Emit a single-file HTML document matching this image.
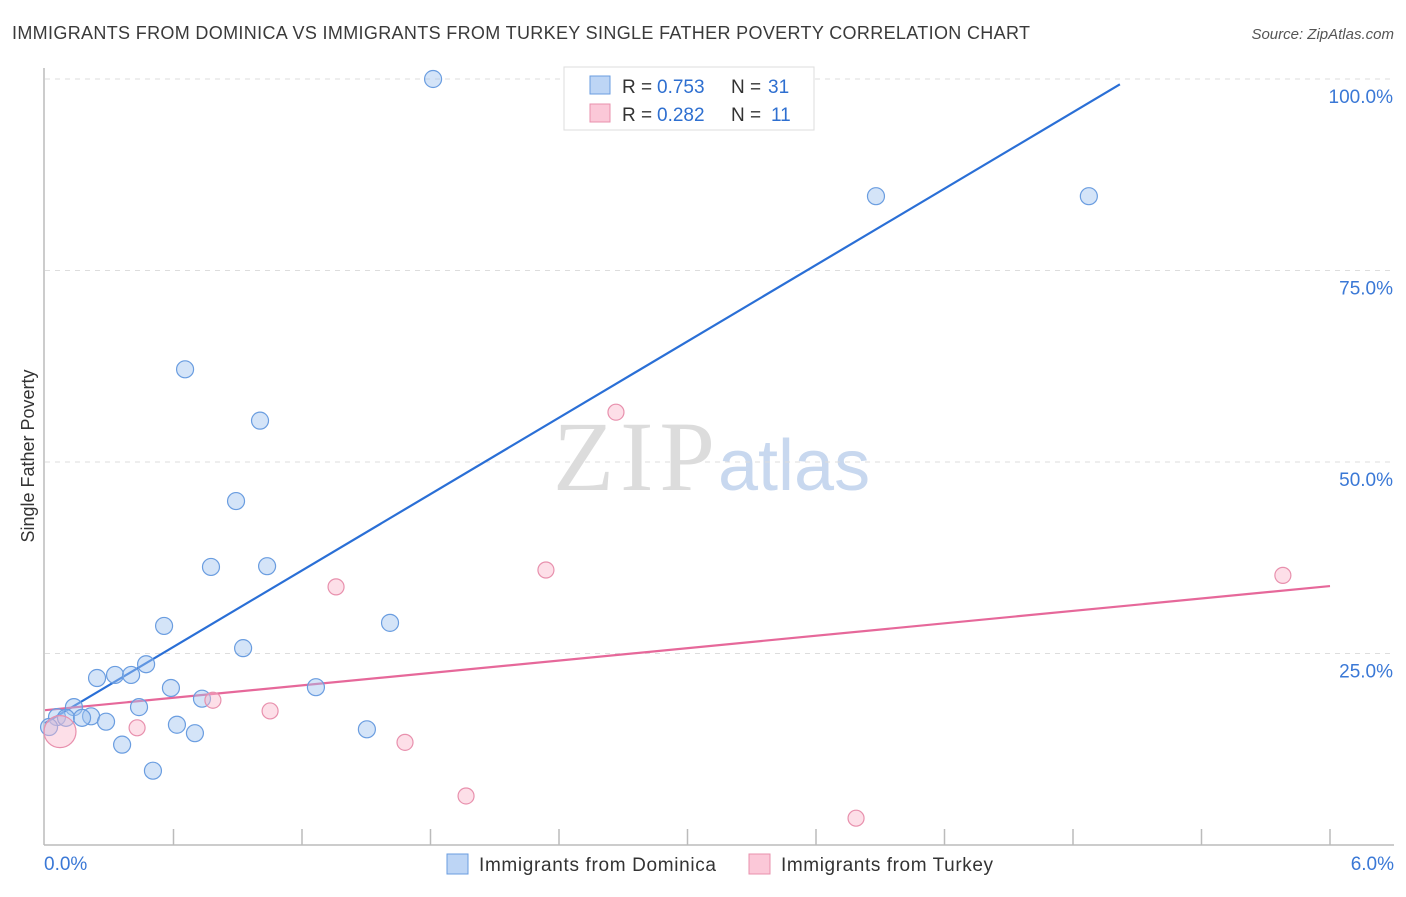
<!DOCTYPE html>
<html><head><meta charset="utf-8"><style>
body{margin:0;background:#fff;}
svg text{font-family:"Liberation Sans",sans-serif;}
</style></head><body>
<svg id="chart" width="1406" height="892">
<text x="12" y="39" font-size="18" fill="#3a3a3a" textLength="1018">IMMIGRANTS FROM DOMINICA VS IMMIGRANTS FROM TURKEY SINGLE FATHER POVERTY CORRELATION CHART</text>
<text x="1394" y="39" font-size="15" fill="#555" font-style="italic" text-anchor="end">Source: ZipAtlas.com</text>
<text x="0" y="0" transform="translate(34,456) rotate(-90)" font-size="18" fill="#333" text-anchor="middle">Single Father Poverty</text>
<g>
<text x="553" y="490" font-size="100" fill="#dcdcdc" style="font-family:'Liberation Serif',serif" textLength="162">ZIP</text>
<text x="718" y="490" font-size="72" fill="#c8d8ef">atlas</text>
</g>
<g id="grid"></g><g id="axes"></g><g id="lines"></g><g id="pts"></g>
<g>
<rect x="564" y="67" width="250" height="63" fill="#fff" stroke="#ddd"/>
<rect x="590" y="76" width="20" height="18" fill="#bdd5f5" stroke="#6a9de0"/>
<rect x="590" y="104" width="20" height="18" fill="#fbc8d8" stroke="#e890ad"/>
<text y="93" font-size="19" fill="#333"><tspan x="622">R =</tspan><tspan x="657" fill="#2e6fd0">0.753</tspan><tspan x="731">N =</tspan><tspan x="768" fill="#2e6fd0">31</tspan></text>
<text y="121" font-size="19" fill="#333"><tspan x="622">R =</tspan><tspan x="657" fill="#2e6fd0">0.282</tspan><tspan x="731">N =</tspan><tspan x="771" fill="#2e6fd0">11</tspan></text>
</g>
<g>
<rect x="447" y="854" width="21" height="20" fill="#bdd5f5" stroke="#6a9de0"/>
<text x="479" y="871" font-size="19" fill="#333" textLength="237">Immigrants from Dominica</text>
<rect x="749" y="854" width="21" height="20" fill="#fbc8d8" stroke="#e890ad"/>
<text x="781" y="871" font-size="19" fill="#333" textLength="212">Immigrants from Turkey</text>
</g>
</svg>
<script>
const xTicksMinorCount = 10;
const yTicks = [25, 50, 75, 100];
const yTickLabels = ["25.0%", "50.0%", "75.0%", "100.0%"];
const xLabels = ["0.0%", "6.0%"];
const domX = [1.812,3.880,4.874,0.654,1.004,0.892,0.775,1.037,0.556,1.611,0.925,0.472,0.327,0.402,0.243,0.588,1.265,0.439,0.733,0.135,0.215,0.285,0.056,0.098,0.173,0.616,0.700,1.503,0.360,0.504,0.019];
const domY = [100,84.7,84.7,62.1,55.4,44.9,36.3,36.4,28.6,29.0,25.7,23.6,22.2,22.2,21.8,20.5,20.6,18.0,19.1,18.0,16.8,16.1,16.7,16.6,16.6,15.7,14.6,15.1,13.1,9.7,15.4];
const turX = [2.666,2.339,5.780,1.359,0.784,1.051,0.430,1.681,1.966,3.787,0.070];
const turY = [56.5,35.9,35.2,33.7,18.9,17.5,15.3,13.4,6.4,3.5,14.8];
const turR = [8,8,8,8,8,8,8,8,8,8,16];
const domTrend = [[0,15.9],[5.019,99.3]];
const turTrend = [[0,17.6],[6,33.8]];
const NS="http://www.w3.org/2000/svg";
const X0=45,X1=1330,Y0=845,Y100=79;
const sx=v=>X0+(X1-X0)*v/6;
const sy=v=>Y0-(Y0-Y100)*v/100;
function mk(tag,attrs,parent){const e=document.createElementNS(NS,tag);for(const k in attrs)e.setAttribute(k,attrs[k]);document.getElementById(parent).appendChild(e);return e;}
yTicks.forEach((t,i)=>{
 const l=mk('line',{x1:X0,x2:1394,y1:sy(t),y2:sy(t),stroke:'#ddd','stroke-dasharray':'5,5'},'grid');
 
 
 const tx=mk('text',{x:1393,y:sy(t)+24,'font-size':19,fill:'#3a78d6','text-anchor':'end'},'grid');
 tx.textContent=yTickLabels[i];
 
 
});
mk('line',{x1:X0-1,x2:X0-1,y1:68,y2:Y0,stroke:'#bbb','stroke-width':1.5},'axes');
mk('line',{x1:X0-1,x2:1394,y1:Y0,y2:Y0,stroke:'#bbb','stroke-width':1.5},'axes');
for(let i=1;i<=xTicksMinorCount;i++){
 const v=6*i/xTicksMinorCount;
 const t=mk('line',{x1:sx(v),x2:sx(v),y1:829,y2:Y0,stroke:'#bbb','stroke-width':1.5},'axes');
 
 
}
[[0,'start',44],[6,'end',1394]].forEach((p,i)=>{
 const t=mk('text',{x:p[2],y:870,'font-size':19,fill:'#3a78d6','text-anchor':p[1]},'axes');
 t.textContent=xLabels[i];
 
 
});
const bl=mk('line',{x1:sx(domTrend[0][0]),y1:sy(domTrend[0][1]),x2:sx(domTrend[1][0]),y2:sy(domTrend[1][1]),stroke:'#2a6fd6','stroke-width':2.2},'lines');


const pl=mk('line',{x1:sx(turTrend[0][0]),y1:sy(turTrend[0][1]),x2:sx(turTrend[1][0]),y2:sy(turTrend[1][1]),stroke:'#e6689a','stroke-width':2.2},'lines');


domX.forEach((x,i)=>{
 const c=mk('circle',{cx:sx(x),cy:sy(domY[i]),r:8.5,fill:'rgba(160,196,240,0.45)',stroke:'#6a9de0','stroke-width':1.2},'pts');
 
 
});
turX.forEach((x,i)=>{
 const c=mk('circle',{cx:sx(x),cy:sy(turY[i]),r:turR[i],fill:'rgba(250,185,205,0.45)',stroke:'#e890ad','stroke-width':1.2},'pts');
 
 
});
</script>
</body></html>
